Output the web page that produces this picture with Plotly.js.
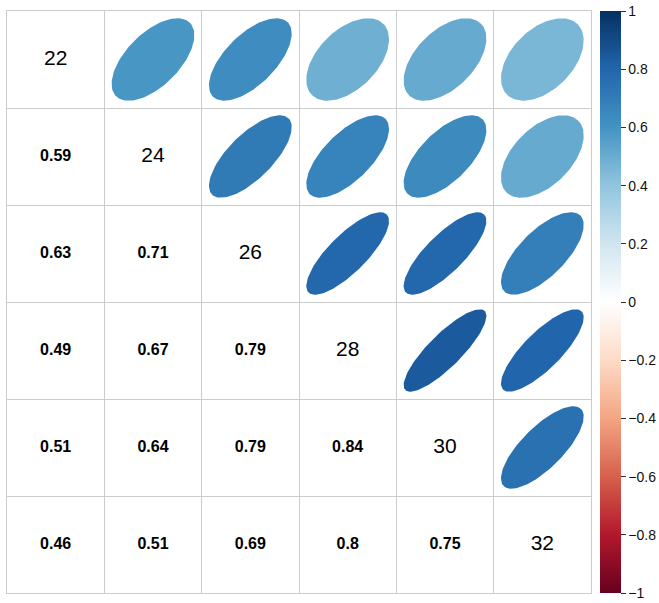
<!DOCTYPE html>
<html>
<head>
<meta charset="utf-8">
<script src="https://cdn.plot.ly/plotly-3.0.1.min.js"></script>
<style>
  html, body { margin: 0; padding: 0; background: #ffffff; }
  #chart { width: 659px; height: 603px; }
</style>
</head>
<body>
<div id="chart"></div>
<script>
// Variable names shown on the diagonal
const varNames = ["22", "24", "26", "28", "30", "32"];

// Lower-triangle correlation coefficients, row by row (row i has i entries)
const corrRow2 = [0.59];
const corrRow3 = [0.63, 0.71];
const corrRow4 = [0.49, 0.67, 0.79];
const corrRow5 = [0.51, 0.64, 0.79, 0.84];
const corrRow6 = [0.46, 0.51, 0.69, 0.80, 0.75];

const lowerRows = [[], corrRow2, corrRow3, corrRow4, corrRow5, corrRow6];

// Diverging red-white-blue palette from -1 to 1
const paletteHex = ["#67001F", "#B2182B", "#D6604D", "#F4A582", "#FDDBC7",
                    "#FFFFFF", "#D1E5F0", "#92C5DE", "#4393C3", "#2166AC", "#053061"];

const colorscale = paletteHex.map((c, i) => [i / (paletteHex.length - 1), c]);

function hexToRgb(h) {
  return [parseInt(h.slice(1, 3), 16), parseInt(h.slice(3, 5), 16), parseInt(h.slice(5, 7), 16)];
}
function colorFor(r) {
  const pos = (r + 1) / 2 * (paletteHex.length - 1);
  const i = Math.min(Math.floor(pos), paletteHex.length - 2);
  const f = pos - i;
  const a = hexToRgb(paletteHex[i]), b = hexToRgb(paletteHex[i + 1]);
  const m = a.map((v, k) => Math.round(v + (b[k] - v) * f));
  return "rgb(" + m.join(",") + ")";
}

const n = varNames.length;
const traces = [];

// Ellipses in the upper triangle, shape derived from the coefficient
const SCALE = 0.85;
for (let i = 0; i < n; i++) {
  for (let j = 0; j < i; j++) {
    const r = lowerRows[i][j];
    const half = Math.acos(r) / 2;
    const cx = i + 1;   // column of the mirrored cell
    const cy = j + 1;   // row of the mirrored cell
    const xs = [], ys = [];
    const steps = 120;
    for (let k = 0; k <= steps; k++) {
      const t = 2 * Math.PI * k / steps;
      xs.push(cx + SCALE * Math.cos(t + half) / 2);
      ys.push(cy - SCALE * Math.cos(t - half) / 2);
    }
    traces.push({
      type: "scatter", mode: "lines", x: xs, y: ys,
      fill: "toself", fillcolor: colorFor(r),
      line: { width: 0, color: colorFor(r) },
      hoverinfo: "skip", showlegend: false
    });
  }
}

// Coefficients written in the lower triangle
const lx = [], ly = [], lt = [];
for (let i = 0; i < n; i++) {
  for (let j = 0; j < i; j++) {
    lx.push(j + 1); ly.push(i + 1); lt.push(String(lowerRows[i][j]));
  }
}
traces.push({
  type: "scatter", mode: "text", x: lx, y: ly, text: lt,
  textfont: { family: "Liberation Sans, Arial, sans-serif", size: 16, color: "#000000", weight: "bold" },
  hoverinfo: "skip", showlegend: false
});

// Variable names on the diagonal
traces.push({
  type: "scatter", mode: "text",
  x: varNames.map((_, k) => k + 1), y: varNames.map((_, k) => k + 1), text: varNames,
  textfont: { family: "Liberation Sans, Arial, sans-serif", size: 21, color: "#000000" },
  hoverinfo: "skip", showlegend: false
});

// Invisible carrier for the colour bar
traces.push({
  type: "scatter", mode: "markers", x: [1, 1], y: [1, 1],
  marker: {
    size: 0.1, opacity: 0, color: [-1, 1], cmin: -1, cmax: 1,
    colorscale: colorscale, showscale: true,
    colorbar: {
      x: 1.0154, xanchor: "left", xpad: 0,
      y: 0.5, yanchor: "middle", ypad: 0,
      len: 1, lenmode: "fraction",
      thickness: 21, thicknessmode: "pixels",
      outlinewidth: 0,
      tickmode: "linear", tick0: -1, dtick: 0.2,
      ticks: "outside", ticklen: 5, tickwidth: 1, tickcolor: "#333333",
      tickfont: { family: "Liberation Sans, Arial, sans-serif", size: 14, color: "#111111" }
    }
  },
  hoverinfo: "skip", showlegend: false
});

const gridVals = Array.from({ length: n + 1 }, (_, k) => k + 0.5);

const axisCommon = {
  tickmode: "array", tickvals: gridVals, showticklabels: false, ticks: "",
  showgrid: true, gridcolor: "#CCCCCC", gridwidth: 1,
  showline: true, linecolor: "#CCCCCC", linewidth: 1, mirror: true,
  zeroline: false, fixedrange: true
};

const layout = {
  width: 659, height: 603,
  margin: { l: 7, r: 68, t: 11, b: 10, pad: 0, autoexpand: false },
  paper_bgcolor: "#ffffff", plot_bgcolor: "#ffffff",
  xaxis: Object.assign({ range: [0.5, n + 0.5] }, axisCommon),
  yaxis: Object.assign({ range: [n + 0.5, 0.5] }, axisCommon),
  showlegend: false,
  hovermode: false
};

Plotly.newPlot("chart", traces, layout, { displayModeBar: false, staticPlot: true });
</script>
</body>
</html>
